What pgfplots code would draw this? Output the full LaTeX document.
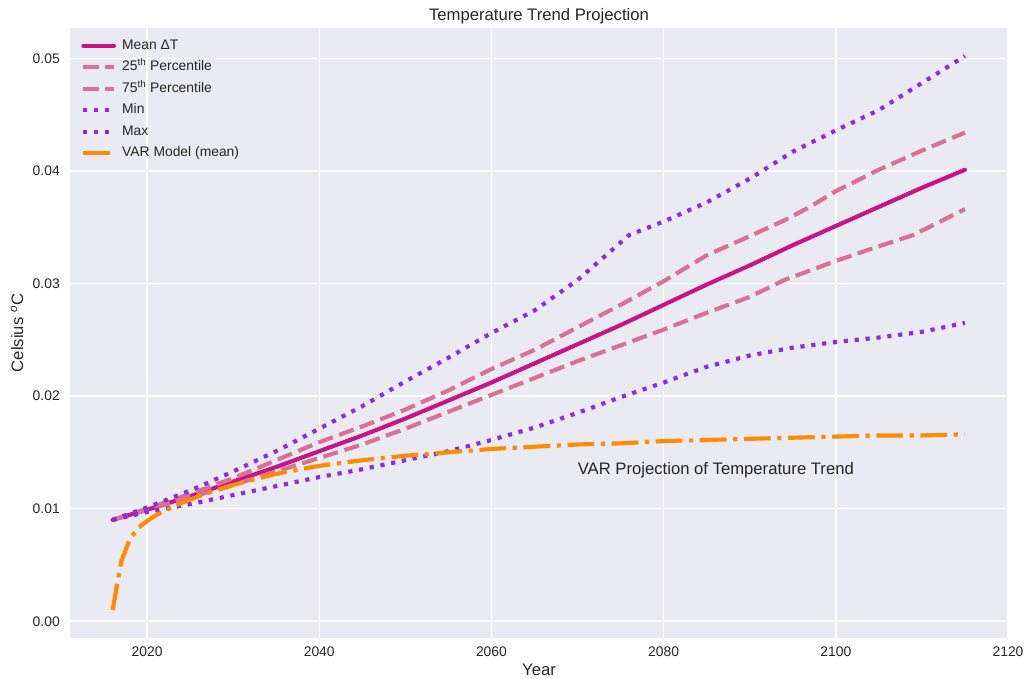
\documentclass[border=0pt]{standalone}
\usepackage{fontspec}
\setmainfont{Liberation Sans}
\usepackage{pgfplots}
\usepackage{pgfplotstable}
\pgfplotsset{compat=1.18}
\definecolor{bg}{HTML}{EAEAF2}
\definecolor{tc}{HTML}{262626}
\definecolor{meanc}{HTML}{C71585}
\definecolor{pctc}{HTML}{DB7093}
\definecolor{mmc}{HTML}{8A2BE2}
\definecolor{varc}{HTML}{FF8C00}

\pgfplotstableread{
year mean
2016 0.0090
2020 0.0099
2025 0.0111
2030 0.0124
2035 0.0137
2040 0.0151
2045 0.0165
2050 0.0180
2055 0.0196
2060 0.0212
2065 0.0229
2070 0.0246
2075 0.0263
2080 0.0281
2085 0.0299
2090 0.0316
2095 0.0334
2100 0.0351
2105 0.0368
2110 0.0385
2115 0.0401
}\meantab

\pgfplotstableread{
year p25
2016 0.0090
2020 0.0099
2025 0.0110
2030 0.0121
2035 0.0133
2040 0.0145
2045 0.0157
2050 0.0171
2055 0.0186
2060 0.0201
2065 0.0216
2068 0.0225
2070 0.0231
2075 0.0245
2080 0.0259
2085 0.0274
2090 0.0288
2094 0.0303
2100 0.0320
2105 0.0333
2109 0.0343
2115 0.0366
}\ptwentyfive

\pgfplotstableread{
year p75
2016 0.0090
2020 0.0100
2025 0.0113
2030 0.0127
2035 0.0143
2040 0.0159
2045 0.0173
2050 0.0188
2055 0.0205
2060 0.0224
2065 0.0241
2070 0.0261
2075 0.0281
2080 0.0302
2085 0.0325
2090 0.0342
2094 0.0356
2097 0.0368
2100 0.0382
2105 0.0401
2110 0.0418
2115 0.0434
}\pseventyfive

\pgfplotstableread{
year mn
2016 0.0090
2020 0.0097
2025 0.0104
2030 0.0112
2035 0.0120
2040 0.0128
2045 0.0135
2050 0.0143
2055 0.0151
2060 0.0161
2065 0.0172
2070 0.0185
2075 0.0199
2080 0.0212
2085 0.0226
2090 0.0236
2095 0.0243
2100 0.0248
2105 0.0252
2110 0.0257
2115 0.0265
}\mintab

\pgfplotstableread{
year mx
2016 0.0090
2020 0.0101
2025 0.0116
2030 0.0133
2035 0.0151
2040 0.0171
2045 0.0191
2050 0.0213
2055 0.0234
2060 0.0256
2065 0.0276
2070 0.0303
2076 0.0343
2080 0.0355
2085 0.0372
2090 0.0393
2095 0.0417
2100 0.0436
2105 0.0454
2110 0.0478
2115 0.0502
}\maxtab

\pgfplotstableread{
year var
2016 0.0010
2017 0.0053
2018 0.0073
2019 0.0083
2020 0.0089
2021 0.0094
2022 0.0098
2024 0.0105
2026 0.0111
2028 0.0116
2030 0.0121
2035 0.0131
2040 0.0138
2045 0.0143
2050 0.0147
2055 0.0150
2060 0.0153
2065 0.0155
2070 0.0157
2075 0.0158
2080 0.0160
2085 0.0161
2090 0.0162
2095 0.0163
2100 0.0164
2105 0.0165
2110 0.0165
2115 0.0166
}\vartab

\begin{document}
\begin{tikzpicture}
\path[use as bounding box] (-52.5pt,-31pt) rectangle (717pt,478.25pt);
\begin{axis}[
  at={(0pt,0pt)}, anchor=south west,
  scale only axis, width=703.5pt, height=457pt,
  xmin=2011.05, xmax=2120.0, ymin=-0.00146, ymax=0.05266,
  axis background/.style={fill=bg},
  axis line style={draw=none},
  major tick length=0pt,
  grid=major, major grid style={white, line width=1.1pt},
  xtick={2020,2040,2060,2080,2100,2120},
  ytick={0,0.01,0.02,0.03,0.04,0.05},
  scaled y ticks=false,
  /pgf/number format/assume math mode=true,
  xticklabel style={/pgf/number format/1000 sep={}, anchor=base, yshift=-14.25pt, font=\fontsize{10.4}{12}\selectfont, text=tc},
  yticklabel style={/pgf/number format/.cd, fixed, fixed zerofill, precision=2, /tikz/.cd, anchor=east, inner sep=0pt, xshift=-7.5pt, font=\fontsize{10.4}{12}\selectfont, text=tc},
  xlabel={Year}, ylabel={Celsius \textsuperscript{\itshape o}C},
  xlabel style={at={(axis description cs:0.5,-0.0628)}, anchor=base, font=\fontsize{12.5}{14}\selectfont, text=tc},
  ylabel style={at={(axis description cs:-0.0501,0.5)}, anchor=base, rotate=0, font=\fontsize{12.5}{14}\selectfont, text=tc},
  title={Temperature Trend Projection},
  every axis title shift=0pt,
  title style={at={(axis description cs:0.5,1.0136)}, anchor=base, yshift=0pt, font=\fontsize{12.5}{14}\selectfont, text=tc},
  legend style={at={(axis description cs:0,1)}, anchor=north west, xshift=8.25pt, yshift=-7.6pt,
    draw=none, fill=none, inner sep=0pt, font=\fontsize{10.4}{12}\selectfont, text=tc,
    row sep=5.6pt, column sep=4.6pt, nodes={inner sep=0pt, text height=7.9pt, text depth=2.6pt}},
  legend cell align=left,
  legend image code/.code={\draw[#1] (0pt,0pt) -- (23pt,0pt);},
]
\addplot[color=meanc, line width=3.1pt, line cap=round, line join=round] table[x=year,y=mean] {\meantab};
\addlegendentry{Mean ΔT}
\addplot[color=pctc, line width=3.1pt, dash pattern=on 11.5pt off 5pt] table[x=year,y=p25] {\ptwentyfive};
\addlegendentry{25\textsuperscript{th} Percentile}
\addplot[color=pctc, line width=3.1pt, dash pattern=on 11.5pt off 5pt] table[x=year,y=p75] {\pseventyfive};
\addlegendentry{75\textsuperscript{th} Percentile}
\addplot[color=mmc, line width=3.1pt, dash pattern=on 3.1pt off 5.1pt] table[x=year,y=mn] {\mintab};
\addlegendentry{Min}
\addplot[color=mmc, line width=3.1pt, dash pattern=on 3.1pt off 5.1pt] table[x=year,y=mx] {\maxtab};
\addlegendentry{Max}
\addplot[color=varc, line width=3.1pt, dash pattern=on 20pt off 5pt on 3.1pt off 5pt] table[x=year,y=var] {\vartab};
\addlegendentry{VAR Model (mean)}
\node[anchor=base west, inner sep=0pt, font=\fontsize{12.5}{14}\selectfont, text=tc] at (axis cs:2070,0.013) {VAR Projection of Temperature Trend};
\end{axis}
\end{tikzpicture}
\end{document}
